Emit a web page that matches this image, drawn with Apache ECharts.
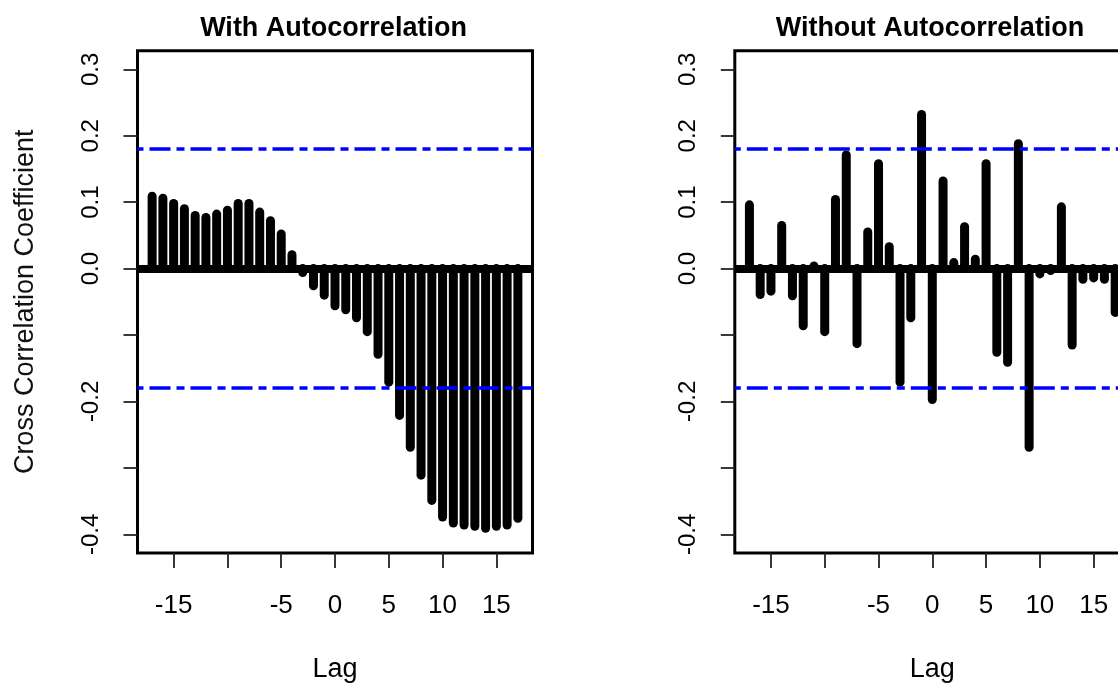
<!DOCTYPE html>
<html>
<head>
<meta charset="utf-8">
<script src="https://cdn.jsdelivr.net/npm/echarts@6/dist/echarts.min.js"></script>
<style>
  html, body { margin: 0; padding: 0; background: #ffffff; }
  #chart { width: 1118px; height: 688px; }
</style>
</head>
<body>
<div id="chart"></div>
<script>
// Lags of the cross-correlation function
const lags = [-17, -16, -15, -14, -13, -12, -11, -10, -9, -8, -7, -6, -5, -4, -3, -2, -1,
  0, 1, 2, 3, 4, 5, 6, 7, 8, 9, 10, 11, 12, 13, 14, 15, 16, 17];

// Cross-correlation coefficients, raw series (with autocorrelation)
const ccfWith = [0.109, 0.106, 0.098, 0.090, 0.080, 0.077, 0.082, 0.088, 0.098, 0.098,
  0.085, 0.072, 0.052, 0.021, -0.006, -0.026, -0.040,
  -0.056, -0.062, -0.074, -0.095, -0.129, -0.171, -0.221, -0.269, -0.311, -0.349,
  -0.374, -0.383, -0.386, -0.388, -0.391, -0.388, -0.386, -0.376];

// Cross-correlation coefficients, prewhitened series (without autocorrelation)
const ccfWithout = [0.096, -0.039, -0.034, 0.065, -0.041, -0.086, 0.004, -0.095, 0.104, 0.171,
  -0.113, 0.055, 0.158, 0.033, -0.171, -0.074, 0.232,
  -0.197, 0.132, 0.009, 0.063, 0.014, 0.158, -0.126, -0.141, 0.188, -0.269,
  -0.008, -0.003, 0.093, -0.115, -0.016, -0.014, -0.016, -0.066];

// Approximate 95% significance bounds
const confWith = 0.180;
const confWithout = 0.182;

const panelTitles = ['With Autocorrelation', 'Without Autocorrelation'];
const xTicks = [-15, -10, -5, 0, 5, 10, 15];
const xTickLabels = [-15, -5, 0, 5, 10, 15];
const yTicks = [-0.4, -0.3, -0.2, -0.1, 0, 0.1, 0.2, 0.3];
const yTickLabels = [-0.4, -0.2, 0, 0.1, 0.2, 0.3];
const xName = 'Lag';
const yName = 'Cross Correlation Coefficient';

const FONT = '"Liberation Sans", Arial, sans-serif';
const X_RANGE = [-18.36, 18.36];
const Y_RANGE = [-0.428, 0.328];

const panels = [
  { left: 137.5, values: ccfWith, conf: confWith, centre: 333.5 },
  { left: 734.8, values: ccfWithout, conf: confWithout, centre: 930 }
];
const PANEL_W = 395;
const PANEL_TOP = 50.7;
const PANEL_H = 502.2;

// One vertical spike per lag, from zero to the coefficient
function renderSpike(params, api) {
  const lag = api.value(0);
  const v = api.value(1);
  const p0 = api.coord([lag, 0]);
  const p1 = api.coord([lag, v]);
  return {
    type: 'line',
    shape: { x1: p0[0], y1: p0[1], x2: p1[0], y2: p1[1] },
    style: { stroke: '#000', lineWidth: 9, lineCap: 'round' }
  };
}

const option = {
  animation: false,
  backgroundColor: '#ffffff',
  title: panels.map((p, i) => ({
    text: panelTitles[i],
    left: p.centre,
    top: 15,
    padding: 0,
    textAlign: 'center',
    textStyle: { fontFamily: FONT, fontSize: 27, fontWeight: 'bold', color: '#000' }
  })),
  grid: panels.map(p => ({
    left: p.left,
    top: PANEL_TOP,
    width: PANEL_W,
    height: PANEL_H,
    show: true,
    borderColor: '#000',
    borderWidth: 3,
    backgroundColor: 'transparent',
    containLabel: false,
    outerBoundsMode: 'none'
  })),
  xAxis: panels.map((p, i) => ({
    type: 'value',
    gridIndex: i,
    position: 'bottom',
    min: X_RANGE[0],
    max: X_RANGE[1],
    name: xName,
    nameLocation: 'middle',
    nameGap: 103,
    nameTextStyle: { fontFamily: FONT, fontSize: 27, color: '#000' },
    axisLine: { show: false, onZero: false },
    splitLine: { show: false },
    axisTick: {
      show: true,
      inside: false,
      length: 15,
      customValues: xTicks,
      lineStyle: { color: '#222', width: 1.8 }
    },
    axisLabel: {
      show: true,
      customValues: xTickLabels,
      margin: 40,
      fontFamily: FONT,
      fontSize: 26,
      color: '#000',
      formatter: v => String(v)
    }
  })),
  yAxis: panels.map((p, i) => ({
    type: 'value',
    gridIndex: i,
    position: 'left',
    min: Y_RANGE[0],
    max: Y_RANGE[1],
    name: i === 0 ? yName : '',
    nameLocation: 'middle',
    nameRotate: 90,
    nameGap: 98,
    nameTextStyle: { fontFamily: FONT, fontSize: 27, color: '#111' },
    axisLine: { show: false, onZero: false },
    splitLine: { show: false },
    axisTick: {
      show: true,
      inside: false,
      length: 14,
      customValues: yTicks,
      lineStyle: { color: '#222', width: 1.8 }
    },
    axisLabel: {
      show: true,
      customValues: yTickLabels,
      rotate: 90,
      margin: 34,
      fontFamily: FONT,
      fontSize: 24,
      color: '#000',
      formatter: v => Number(v).toFixed(1)
    }
  })),
  series: []
};

panels.forEach((p, i) => {
  option.series.push({
    type: 'custom',
    xAxisIndex: i,
    yAxisIndex: i,
    z: 2,
    clip: true,
    renderItem: renderSpike,
    encode: { x: 0, y: 1 },
    data: lags.map((lag, k) => [lag, p.values[k]])
  });
  // Zero line and significance bounds
  option.series.push({
    type: 'line',
    xAxisIndex: i,
    yAxisIndex: i,
    z: 5,
    data: [],
    silent: true,
    markLine: {
      silent: true,
      symbol: ['none', 'none'],
      label: { show: false },
      animation: false,
      data: [
        { yAxis: 0, lineStyle: { color: '#000', width: 8, type: 'solid' } },
        { yAxis: p.conf, lineStyle: { color: '#0000ff', width: 3.5, type: [21, 6, 8, 6], dashOffset: 29 } },
        { yAxis: -p.conf, lineStyle: { color: '#0000ff', width: 3.5, type: [21, 6, 8, 6], dashOffset: 29 } }
      ]
    }
  });
});

const chart = echarts.init(document.getElementById('chart'), null, { renderer: 'canvas' });
chart.setOption(option);
</script>
</body>
</html>
